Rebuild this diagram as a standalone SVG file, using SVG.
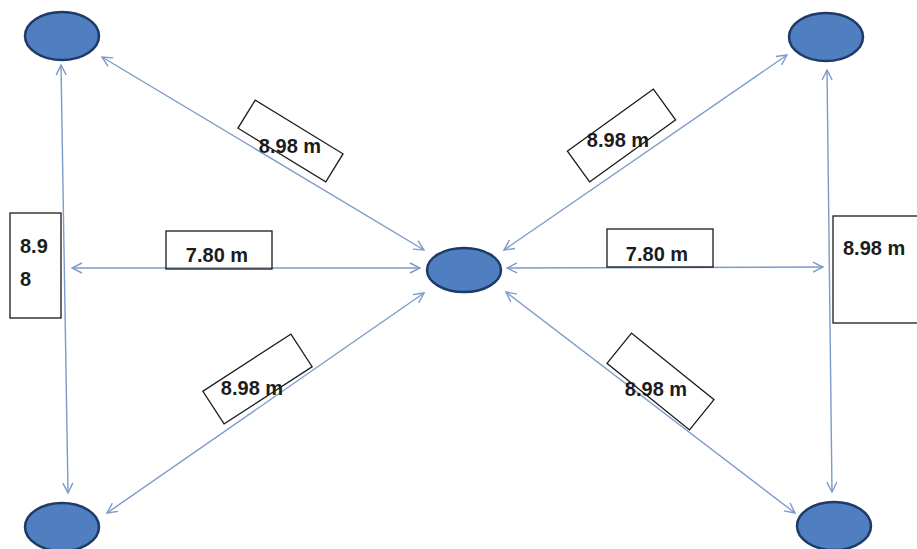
<svg xmlns="http://www.w3.org/2000/svg" width="917" height="549" viewBox="0 0 917 549">
<style>
.node{fill:#4f7fc0;stroke:#1f3a66;stroke-width:2.5}
.conn{stroke:#7d9bc8;stroke-width:1.4;fill:none;marker-start:url(#arr);marker-end:url(#arr)}
.box{fill:none;stroke:#1a1a1a;stroke-width:1.3}
.lbl{font-family:"Liberation Sans",Arial,sans-serif;font-weight:bold;font-size:20px;fill:#1c1c1c}
</style>
<defs>
<marker id="arr" viewBox="0 0 12 12" refX="11" refY="6" markerWidth="12" markerHeight="12" markerUnits="userSpaceOnUse" orient="auto-start-reverse">
<path d="M1,1 L11,6 L1,11" fill="none" stroke="#7d9bc8" stroke-width="1.4"/>
</marker>
</defs>
<rect width="917" height="549" fill="#ffffff"/>
<g id="connectors">
<line class="conn" x1="61" y1="65" x2="68" y2="493"/>
<line class="conn" x1="827" y1="70" x2="832" y2="492"/>
<line class="conn" x1="72" y1="268" x2="420" y2="268"/>
<line class="conn" x1="507" y1="268" x2="823" y2="267"/>
<line class="conn" x1="102" y1="57" x2="424" y2="250"/>
<line class="conn" x1="504" y1="250" x2="787" y2="55"/>
<line class="conn" x1="107" y1="513" x2="424" y2="293"/>
<line class="conn" x1="506" y1="292" x2="795" y2="513"/>
</g>
<g id="node-tl"><ellipse class="node" cx="62" cy="36" rx="37" ry="24"/></g>
<g id="node-tr"><ellipse class="node" cx="826" cy="37" rx="37" ry="24"/></g>
<g id="node-center"><ellipse class="node" cx="464" cy="270" rx="37" ry="22"/></g>
<g id="node-bl"><ellipse class="node" cx="62" cy="527" rx="37" ry="24"/></g>
<g id="node-br"><ellipse class="node" cx="834" cy="526" rx="37" ry="24"/></g>
<g id="label-tl">
<rect class="box" x="-51.5" y="-16.5" width="103" height="33" transform="translate(290.5 141) rotate(31.5)"/>
<text class="lbl" x="290" y="153" text-anchor="middle">8.98 m</text>
</g>
<g id="label-tr">
<rect class="box" x="-53" y="-19" width="106" height="38" transform="translate(621.5 135.5) rotate(-35.8)"/>
<text class="lbl" x="618" y="147" text-anchor="middle">8.98 m</text>
</g>
<g id="label-bl">
<rect class="box" x="-52.5" y="-19.5" width="105" height="39" transform="translate(257.5 379) rotate(-33)"/>
<text class="lbl" x="252" y="395" text-anchor="middle">8.98 m</text>
</g>
<g id="label-br">
<rect class="box" x="-53" y="-19.5" width="106" height="39" transform="translate(660.5 381.5) rotate(38.9)"/>
<text class="lbl" x="656" y="396" text-anchor="middle">8.98 m</text>
</g>
<g id="label-left-h">
<rect class="box" x="166" y="231" width="106" height="38"/>
<text class="lbl" x="217" y="262" text-anchor="middle">7.80 m</text>
</g>
<g id="label-right-h">
<rect class="box" x="607" y="229" width="106" height="38"/>
<text class="lbl" x="657" y="261" text-anchor="middle">7.80 m</text>
</g>
<g id="label-left-v">
<rect class="box" x="10" y="213" width="51" height="105"/>
<text class="lbl" x="20" y="253">8.9</text>
<text class="lbl" x="20" y="286">8</text>
</g>
<g id="label-right-v">
<rect class="box" x="833" y="216" width="90" height="107"/>
<text class="lbl" x="843" y="255">8.98 m</text>
</g>
</svg>
